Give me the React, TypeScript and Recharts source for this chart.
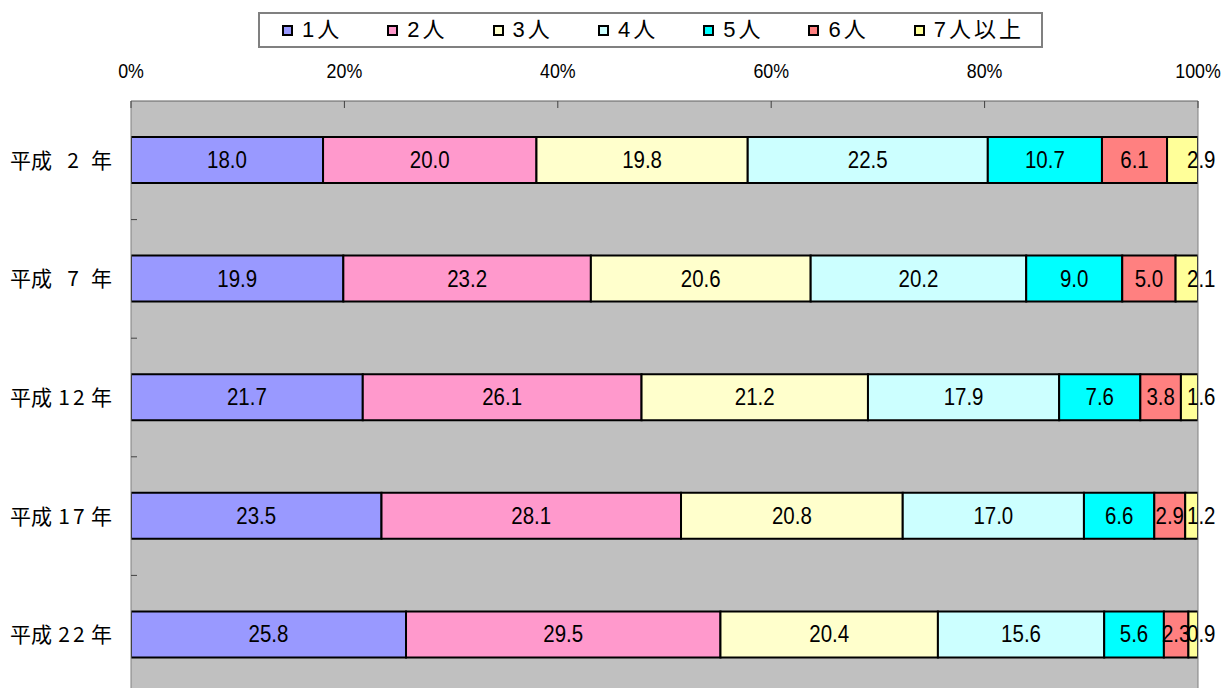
import {
  BarChart,
  Bar,
  XAxis,
  YAxis,
  CartesianGrid,
  Legend,
  LabelList,
  ReferenceLine,
} from "recharts";

const years = ["平成 2 年", "平成 7 年", "平成12年", "平成17年", "平成22年"];

const seriesNames = ["1人", "2人", "3人", "4人", "5人", "6人", "7人以上"];
const seriesColors = ["#9999FF", "#FF99CC", "#FFFFCC", "#CCFFFF", "#00FFFF", "#FF8080", "#FFFF99"];

const person1 = [18.0, 19.9, 21.7, 23.5, 25.8];
const person2 = [20.0, 23.2, 26.1, 28.1, 29.5];
const person3 = [19.8, 20.6, 21.2, 20.8, 20.4];
const person4 = [22.5, 20.2, 17.9, 17.0, 15.6];
const person5 = [10.7, 9.0, 7.6, 6.6, 5.6];
const person6 = [6.1, 5.0, 3.8, 2.9, 2.3];
const person7 = [2.9, 2.1, 1.6, 1.2, 0.9];

const xTicks = [0, 0.2, 0.4, 0.6, 0.8, 1];
const xTickLabels = ["0%", "20%", "40%", "60%", "80%", "100%"];

const seriesValues = [person1, person2, person3, person4, person5, person6, person7];

const data = years.map((year, i) => {
  const row: Record<string, string | number> = { year };
  seriesValues.forEach((vals, s) => {
    row["s" + s] = vals[i];
  });
  return row;
});

const W = 1227;
const H = 700;
const margin = { top: 0, right: 29, bottom: 6, left: 0 };
const X_AXIS_H = 101;
const Y_AXIS_W = 131;
const band = (H - margin.top - margin.bottom - X_AXIS_H) / years.length;

const numFont = "'Liberation Sans', Arial, sans-serif";
const jpFont = "'Noto Sans CJK JP', 'Noto Sans', sans-serif";
const NARROW = 0.89;

// text squeezed horizontally around its anchor point (the reference uses a condensed face)
const Narrow = ({ x, y, anchor, size, children }: any) => (
  <text
    x={x}
    y={y}
    textAnchor={anchor}
    fontFamily={numFont}
    fontSize={size}
    fill="#000"
    transform={`translate(${x} ${y}) scale(${NARROW} 1) translate(${-x} ${-y})`}
  >
    {children}
  </text>
);

const XTick = (props: any) => {
  const { x, y, index } = props;
  return (
    <g>
      <Narrow x={x} y={y - 23} anchor="middle" size={20}>
        {xTickLabels[index]}
      </Narrow>
      <line x1={x} x2={x} y1={y} y2={y + 7} stroke="#404040" />
    </g>
  );
};

const YTick = (props: any) => {
  const { x, y, payload } = props;
  const m = String(payload.value).match(/^(\D+?)\s*(\d+)\s*(\D+)$/);
  const pre = m ? m[1] : String(payload.value);
  const num = m ? m[2] : "";
  const post = m ? m[3] : "";
  const left = x - 121;
  return (
    <g fontFamily={jpFont} fontSize={21} fill="#000">
      <text x={left} y={y} dy="0.36em" textAnchor="start">
        {pre}
      </text>
      <text x={left + 63} y={y} dy="0.36em" textAnchor="middle" letterSpacing={num.length > 1 ? 3 : 0}>
        {num}
      </text>
      <text x={x - 19} y={y} dy="0.36em" textAnchor="end">
        {post}
      </text>
      <line x1={x} x2={x + 6} y1={y + band / 2} y2={y + band / 2} stroke="#404040" />
    </g>
  );
};

const BarLabel = (props: any) => {
  const { x, y, width, height, value, outside } = props;
  const cy = y + height / 2 + 8;
  const text = Number(value).toFixed(1);
  if (outside) {
    return (
      <Narrow x={x + width - 11} y={cy} anchor="start" size={23}>
        {text}
      </Narrow>
    );
  }
  return (
    <Narrow x={x + width / 2} y={cy} anchor="middle" size={23}>
      {text}
    </Narrow>
  );
};

const LegendBox = () => (
  <div
    style={{
      boxSizing: "border-box",
      width: 785,
      height: 36,
      border: "2px solid #808080",
      background: "#fff",
      display: "flex",
      alignItems: "center",
      paddingLeft: 22,
    }}
  >
    {seriesNames.map((name, i) => (
      <div
        key={name}
        style={{ display: "flex", alignItems: "center", width: i < seriesNames.length - 1 ? 105.3 : "auto" }}
      >
        <span
          style={{
            display: "inline-block",
            boxSizing: "border-box",
            width: 11,
            height: 11,
            border: "2px solid #000",
            background: seriesColors[i],
            marginRight: 9,
          }}
        />
        <span
          style={{
            fontFamily: "'Liberation Sans', " + jpFont,
            fontSize: 22,
            letterSpacing: 3,
            color: "#000",
            lineHeight: "22px",
          }}
        >
          {name}
        </span>
      </div>
    ))}
  </div>
);

export default function App() {
  return (
    <div>
      <style>{"body{margin:0;overflow:hidden;background:#fff}"}</style>
      <BarChart
        width={W}
        height={H}
        data={data}
        layout="vertical"
        stackOffset="expand"
        margin={margin}
      >
        <CartesianGrid fill="#C0C0C0" vertical={false} horizontal={true} stroke="#C0C0C0" strokeOpacity={0} />
        <XAxis
          type="number"
          orientation="top"
          domain={[0, 1]}
          allowDataOverflow
          ticks={xTicks}
          height={X_AXIS_H}
          tickSize={0}
          tickMargin={0}
          tickLine={false}
          axisLine={{ stroke: "#606060", strokeWidth: 1 }}
          tick={<XTick />}
          interval={0}
        />
        <YAxis
          type="category"
          dataKey="year"
          width={Y_AXIS_W}
          tickSize={0}
          tickMargin={0}
          tickLine={false}
          axisLine={{ stroke: "#808080", strokeWidth: 1 }}
          tick={<YTick />}
          interval={0}
        />
        <Legend
          layout="horizontal"
          verticalAlign="middle"
          align="center"
          content={<LegendBox />}
          wrapperStyle={{ top: 12, left: 258, width: 785, height: 36 }}
        />
        {seriesNames.map((name, s) => (
          <Bar
            key={name}
            dataKey={"s" + s}
            name={name}
            stackId="a"
            fill={seriesColors[s]}
            stroke="#000"
            strokeWidth={2}
            barSize={46}
            isAnimationActive={false}
          >
            <LabelList
              dataKey={"s" + s}
              content={(p: any) => <BarLabel {...p} outside={s === seriesNames.length - 1} />}
            />
          </Bar>
        ))}
        <ReferenceLine x={1} stroke="#808080" strokeWidth={1} />
      </BarChart>
    </div>
  );
}
